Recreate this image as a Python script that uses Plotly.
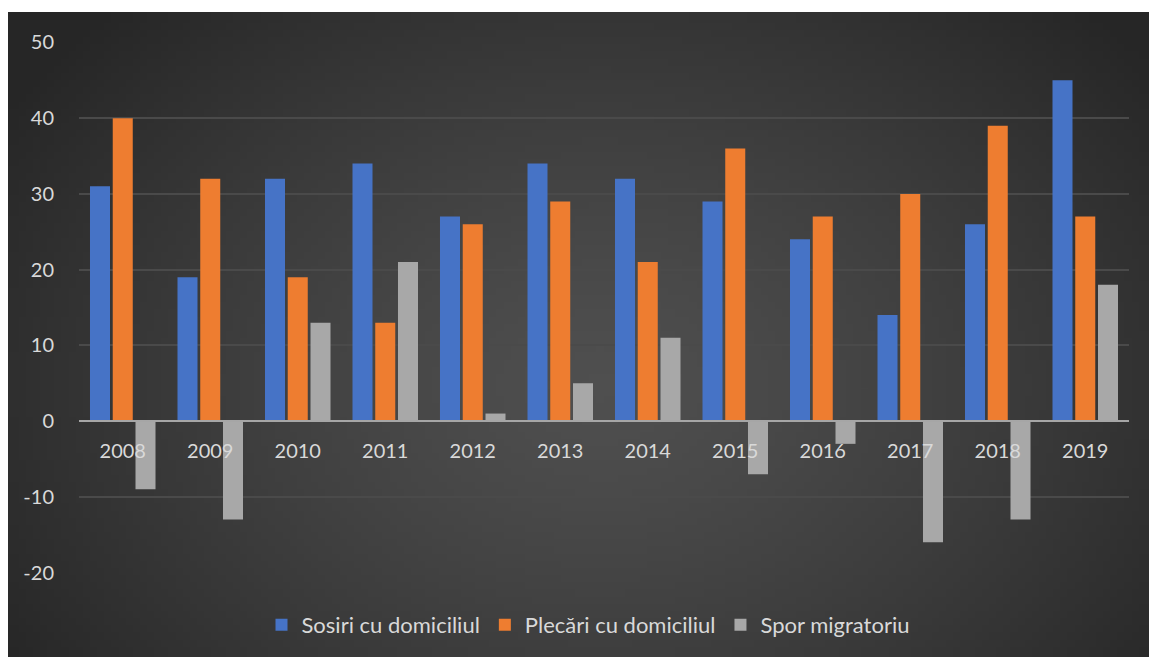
import base64
import struct
import zlib

import plotly.graph_objects as go

# ---------------- data ----------------
years = ["2008", "2009", "2010", "2011", "2012", "2013",
         "2014", "2015", "2016", "2017", "2018", "2019"]
sosiri = [31, 19, 32, 34, 27, 34, 32, 29, 24, 14, 26, 45]
plecari = [40, 32, 19, 13, 26, 29, 21, 36, 27, 30, 39, 27]
spor = [-9, -13, 13, 21, 1, 5, 11, -7, -3, -16, -13, 18]
series_names = ["Sosiri cu domiciliul", "Plecări cu domiciliul", "Spor migratoriu"]
y_ticks = [-20, -10, 0, 10, 20, 30, 40, 50]
y_tick_text = ["-20", "-10", "0", "10", "20", "30", "40", "50"]

# ---------------- layout geometry (pixels) ----------------
W, H = 1149, 657
L, R, T, B = 79, 20, 42, 84
plot_w = W - L - R
plot_h = H - T - B
y_range = [-20.05, 50.05]


# ---------------- background radial gradient as png ----------------
def make_png(w, h, cx, cy, c_in, c_out):
    rows = b""
    for j in range(h):
        row = b"\x00"
        for i in range(w):
            dx = (i + 0.5) / w - cx
            dy = ((j + 0.5) / h - cy) * (h / w) * 1.35
            d = min(1.0, (dx * dx + dy * dy) ** 0.5 / 0.62)
            t = d ** 1.3
            v = int(round(c_in + (c_out - c_in) * t))
            row += bytes([v, v, v])
        rows += row

    def chunk(tag, data):
        c = struct.pack(">I", len(data)) + tag + data
        return c + struct.pack(">I", zlib.crc32(tag + data) & 0xFFFFFFFF)

    png = b"\x89PNG\r\n\x1a\n"
    png += chunk(b"IHDR", struct.pack(">IIBBBBB", w, h, 8, 2, 0, 0, 0))
    png += chunk(b"IDAT", zlib.compress(rows, 9))
    png += chunk(b"IEND", b"")
    return "data:image/png;base64," + base64.b64encode(png).decode()


bg_src = make_png(160, 90, 0.52, 0.58, 0x4F, 0x26)


def px_to_paper_x(px):
    return (px - L) / plot_w


def px_to_paper_y(py):
    return (H - B - py) / plot_h


font_family = "Lato, 'Open Sans', sans-serif"
text_color = "#d9d9d9"

colors = ["#4673c6", "#ee7d30", "#a8a8a8"]
values = [sosiri, plecari, spor]

fig = go.Figure()
for name, vals, col in zip(series_names, values, colors):
    fig.add_trace(go.Bar(
        x=years, y=vals, name=name,
        marker=dict(color=col, line=dict(width=0)),
    ))

zero_pos = (0 - y_range[0]) / (y_range[1] - y_range[0])

fig.update_layout(
    width=W, height=H,
    margin=dict(l=L, r=R, t=T, b=B, autoexpand=False),
    paper_bgcolor="white",
    plot_bgcolor="rgba(0,0,0,0)",
    barmode="group",
    bargap=0.22,
    bargroupgap=0.12,
    font=dict(family=font_family, color=text_color, size=20),
    showlegend=True,
    legend=dict(
        orientation="h",
        x=px_to_paper_x(588), xanchor="center",
        y=px_to_paper_y(625), yanchor="middle",
        font=dict(size=22, color=text_color),
        bgcolor="rgba(0,0,0,0)",
        itemwidth=30,
        traceorder="normal",
    ),
    xaxis=dict(
        type="category",
        anchor="free",
        position=zero_pos,
        showgrid=False,
        showline=True,
        linecolor="#a6a6a6",
        linewidth=2,
        layer="above traces",
        ticks="",
        ticklabelstandoff=12,
        tickfont=dict(size=20, color=text_color),
        fixedrange=True,
    ),
    yaxis=dict(
        range=y_range,
        tickvals=y_ticks,
        ticktext=y_tick_text,
        showgrid=True,
        gridcolor="#4a4a4a",
        gridwidth=2,
        zeroline=False,
        showline=False,
        ticks="",
        ticklabelstandoff=24,
        tickfont=dict(size=20, color=text_color),
        fixedrange=True,
    ),
    images=[dict(
        source=bg_src,
        xref="paper", yref="paper",
        x=px_to_paper_x(8), y=px_to_paper_y(12),
        sizex=(W - 8) / plot_w, sizey=(H - 12) / plot_h,
        xanchor="left", yanchor="top",
        sizing="stretch", layer="below",
    )],
)

fig.write_html(
    "out.html",
    config={"displayModeBar": False},
    post_script="document.body.style.margin='0';document.body.style.overflow='hidden';",
)
